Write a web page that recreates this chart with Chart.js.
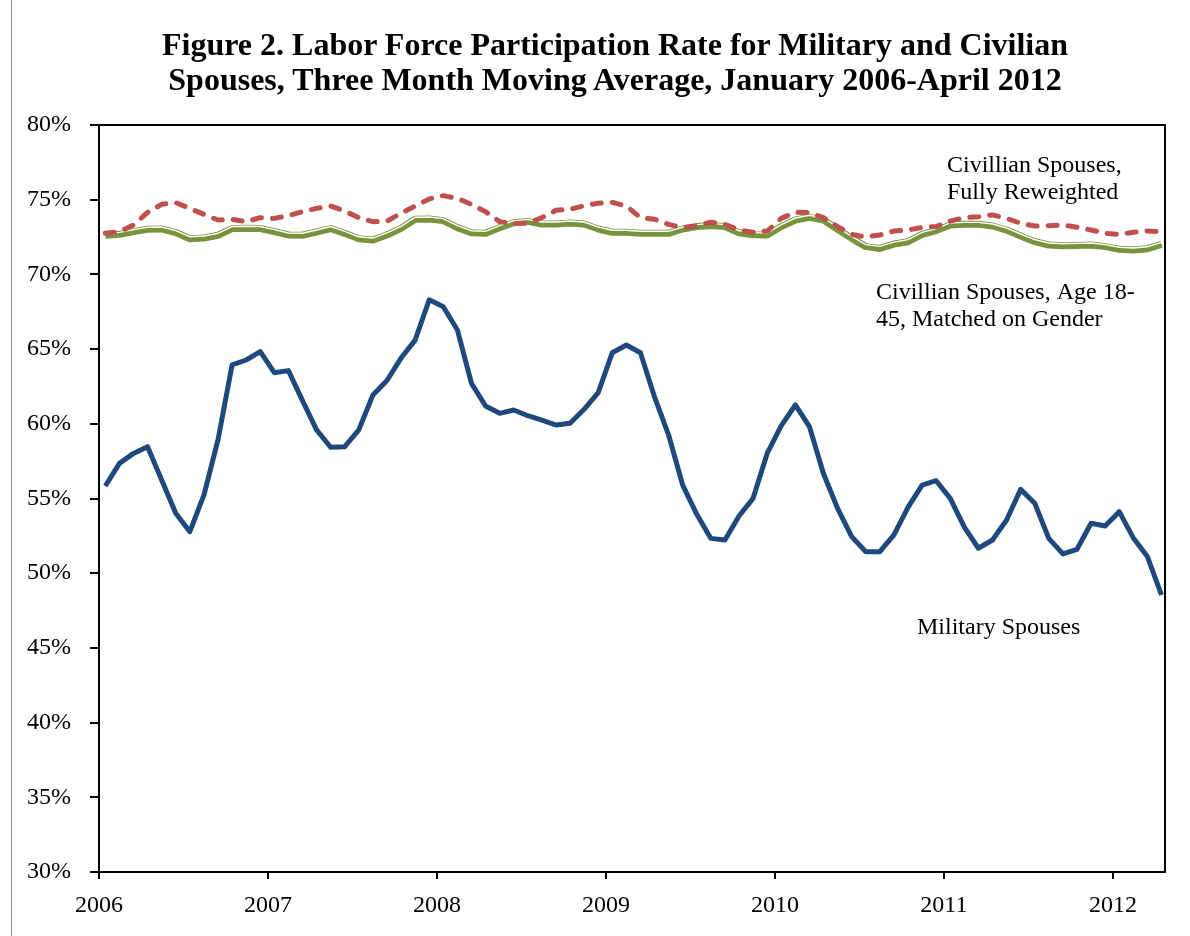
<!DOCTYPE html>
<html>
<head>
<meta charset="utf-8">
<script src="https://cdn.jsdelivr.net/npm/chart.js@4.4.1/dist/chart.umd.min.js"></script>
<style>
  html, body { margin: 0; padding: 0; background: #fff; }
  #wrap { position: relative; width: 1190px; height: 936px; }
  #edge { position: absolute; left: 11px; top: 0; width: 1px; height: 936px; background: #8c8c8c; }
  #title {
    position: absolute; left: 115px; top: 27px; width: 1000px;
    text-align: center; font: bold 32px/35px 'Liberation Serif', 'Times New Roman', serif; color: #000;
  }
</style>
</head>
<body>
<div id="wrap">
  <canvas id="chart" width="1190" height="936"></canvas>
  <div id="edge"></div>
  <div id="title"></div>
</div>
<script>
// Monthly 3-month moving averages, Jan 2006 - Apr 2012 (percent)
const titleLines = [
  "Figure 2. Labor Force Participation Rate for Military and Civilian",
  "Spouses, Three Month Moving Average, January 2006-April 2012",
];
const years = ["2006", "2007", "2008", "2009", "2010", "2011", "2012"];

const military = [
  55.84, 57.35, 58.02, 58.47, 56.24, 54.01, 52.78, 55.23, 58.92, 63.94, 64.27, 64.83,
  63.42, 63.56, 61.55, 59.59, 58.43, 58.47, 59.59, 61.93, 62.9, 64.4, 65.6, 68.3,
  67.84, 66.28, 62.71, 61.19, 60.7, 60.92, 60.54, 60.25, 59.92, 60.03, 60.97, 62.08,
  64.76, 65.27, 64.76, 61.8, 59.25, 55.9, 53.94, 52.33, 52.22, 53.83, 55.01, 58.02,
  59.88, 61.26, 59.81, 56.66, 54.34, 52.45, 51.44, 51.44, 52.56, 54.41, 55.9, 56.19,
  55.01, 53.08, 51.67, 52.22, 53.56, 55.61, 54.68, 52.33, 51.29, 51.6, 53.34, 53.16,
  54.12, 52.36, 51.11, 48.54,
];
const fullyReweighted = [
  72.75, 72.86, 73.31, 74.15, 74.69, 74.8, 74.42, 74.02, 73.64, 73.69, 73.53, 73.8,
  73.75, 73.93, 74.2, 74.42, 74.58, 74.24, 73.8, 73.53, 73.57, 74.09, 74.58, 75.05,
  75.27, 75.09, 74.69, 74.2, 73.53, 73.4, 73.43, 73.8, 74.29, 74.36, 74.6, 74.76,
  74.82, 74.58, 73.8, 73.69, 73.35, 73.13, 73.26, 73.49, 73.35, 72.97, 72.82, 72.9,
  73.75, 74.16, 74.13, 73.8, 73.2, 72.68, 72.5, 72.64, 72.9, 72.97, 73.15, 73.2,
  73.57, 73.8, 73.86, 73.98, 73.75, 73.42, 73.24, 73.26, 73.31, 73.15, 72.97, 72.75,
  72.68, 72.82, 72.9, 72.86,
];
const matchedGender = [
  72.62, 72.68, 72.86, 73.02, 73.04, 72.8, 72.39, 72.44, 72.62, 73.07, 73.09, 73.07,
  72.86, 72.64, 72.62, 72.84, 73.07, 72.75, 72.39, 72.3, 72.64, 73.08, 73.69, 73.71,
  73.6, 73.13, 72.79, 72.75, 73.13, 73.46, 73.55, 73.37, 73.37, 73.44, 73.37, 73.04,
  72.82, 72.82, 72.75, 72.75, 72.75, 73.04, 73.2, 73.28, 73.2, 72.79, 72.66, 72.64,
  73.2, 73.64, 73.82, 73.64, 73.02, 72.41, 71.86, 71.74, 72.03, 72.19, 72.68, 72.93,
  73.31, 73.35, 73.35, 73.24, 72.97, 72.57, 72.19, 71.97, 71.92, 71.94, 71.97, 71.86,
  71.68, 71.63, 71.72, 72.01,
];

// month categories "2006-01" ... "2012-04"
const months = [];
for (let y = 2006; y <= 2012; y++) {
  for (let m = 1; m <= 12; m++) {
    if (months.length < military.length) months.push(y + "-" + String(m).padStart(2, "0"));
  }
}

// monthly points sit mid-month on a continuous axis (months since Jan 2006)
const monthPos = (label) => {
  const [y, m] = label.split("-").map(Number);
  return (y - 2006) * 12 + (m - 1) + 0.45;
};
const toPoints = (values) => values.map((v, i) => ({ x: monthPos(months[i]), y: v }));

document.getElementById("title").innerHTML = titleLines.join("<br>");

const serif = "'Liberation Serif', 'Times New Roman', serif";
Chart.defaults.font.family = serif;
Chart.defaults.color = "#000";

// draws a dataset nudged vertically (white gap of the double green line)
const shiftPlugin = {
  id: "shift",
  beforeDatasetDraw(chart, args) {
    const dy = chart.data.datasets[args.index].shiftY;
    if (dy) {
      chart.ctx.save();
      chart.ctx.translate(0, dy);
    }
  },
  afterDatasetDraw(chart, args) {
    if (chart.data.datasets[args.index].shiftY) chart.ctx.restore();
  },
};

const framePlugin = {
  id: "frame",
  afterDatasetsDraw(chart) {
    const { ctx, chartArea: a } = chart;
    ctx.save();
    ctx.strokeStyle = "#000";
    ctx.lineWidth = 2;
    ctx.beginPath();
    ctx.moveTo(a.left, a.top);
    ctx.lineTo(a.right, a.top);
    ctx.lineTo(a.right, a.bottom);
    ctx.stroke();
    ctx.restore();
  },
};

const labelPlugin = {
  id: "seriesLabels",
  afterDraw(chart, args, opts) {
    const ctx = chart.ctx;
    ctx.save();
    ctx.font = opts.font;
    ctx.fillStyle = "#000";
    ctx.textAlign = "left";
    ctx.textBaseline = "middle";
    opts.items.forEach((it) => {
      it.lines.forEach((t, k) => ctx.fillText(t, it.x, it.y + k * opts.lineHeight));
    });
    ctx.restore();
  },
};

new Chart(document.getElementById("chart"), {
  type: "line",
  data: {
    datasets: [
      {
        label: "Civillian Spouses, Fully Reweighted",
        data: toPoints(fullyReweighted),
        borderColor: "#C0504D",
        borderWidth: 5,
        borderDash: [9, 11],
        borderCapStyle: "round",
        borderJoinStyle: "round",
      },
      {
        label: "gap",
        data: toPoints(matchedGender),
        borderColor: "#ffffff",
        borderWidth: 1.4,
        shiftY: -2,
      },
      {
        label: "Civillian Spouses, Age 18-45, Matched on Gender",
        data: toPoints(matchedGender),
        borderColor: "#77933C",
        borderWidth: 7,
        borderJoinStyle: "round",
      },
      {
        label: "Military Spouses",
        data: toPoints(military),
        borderColor: "#1F497D",
        borderWidth: 5,
        borderJoinStyle: "round",
      },
    ],
  },
  options: {
    responsive: false,
    animation: false,
    devicePixelRatio: 1,
    elements: {
      point: { radius: 0 },
      line: { tension: 0, fill: false },
    },
    layout: { padding: { left: 0, right: 25, top: 125, bottom: 0 } },
    scales: {
      x: {
        type: "linear",
        min: 0,
        max: 75.7,
        afterBuildTicks: (scale) => {
          scale.ticks = years.map((y, k) => ({ value: k * 12 }));
        },
        afterFit: (scale) => {
          scale.height = 64;
        },
        ticks: {
          callback: (v, i) => years[i],
          font: { size: 24 },
          padding: 12,
          maxRotation: 0,
          autoSkip: false,
        },
        grid: {
          drawOnChartArea: false,
          drawTicks: true,
          tickLength: 7,
          color: "#000",
          lineWidth: 2,
        },
        border: { display: true, color: "#000", width: 2 },
      },
      y: {
        min: 30,
        max: 80,
        afterFit: (scale) => {
          scale.width = 99;
        },
        ticks: {
          stepSize: 5,
          callback: (v) => v + "%",
          font: { size: 24 },
          padding: 19,
        },
        grid: {
          drawOnChartArea: false,
          drawTicks: true,
          tickLength: 9,
          color: "#000",
          lineWidth: 2,
        },
        border: { display: true, color: "#000", width: 2 },
      },
    },
    plugins: {
      legend: { display: false },
      tooltip: { enabled: false },
      title: { display: false },
      seriesLabels: {
        font: "24px " + serif,
        lineHeight: 27,
        items: [
          { lines: ["Civillian Spouses,", "Fully Reweighted"], x: 947, y: 166 },
          { lines: ["Civillian Spouses, Age 18-", "45, Matched on Gender"], x: 876, y: 293 },
          { lines: ["Military Spouses"], x: 917, y: 628 },
        ],
      },
    },
  },
  plugins: [shiftPlugin, framePlugin, labelPlugin],
});
</script>
</body>
</html>
